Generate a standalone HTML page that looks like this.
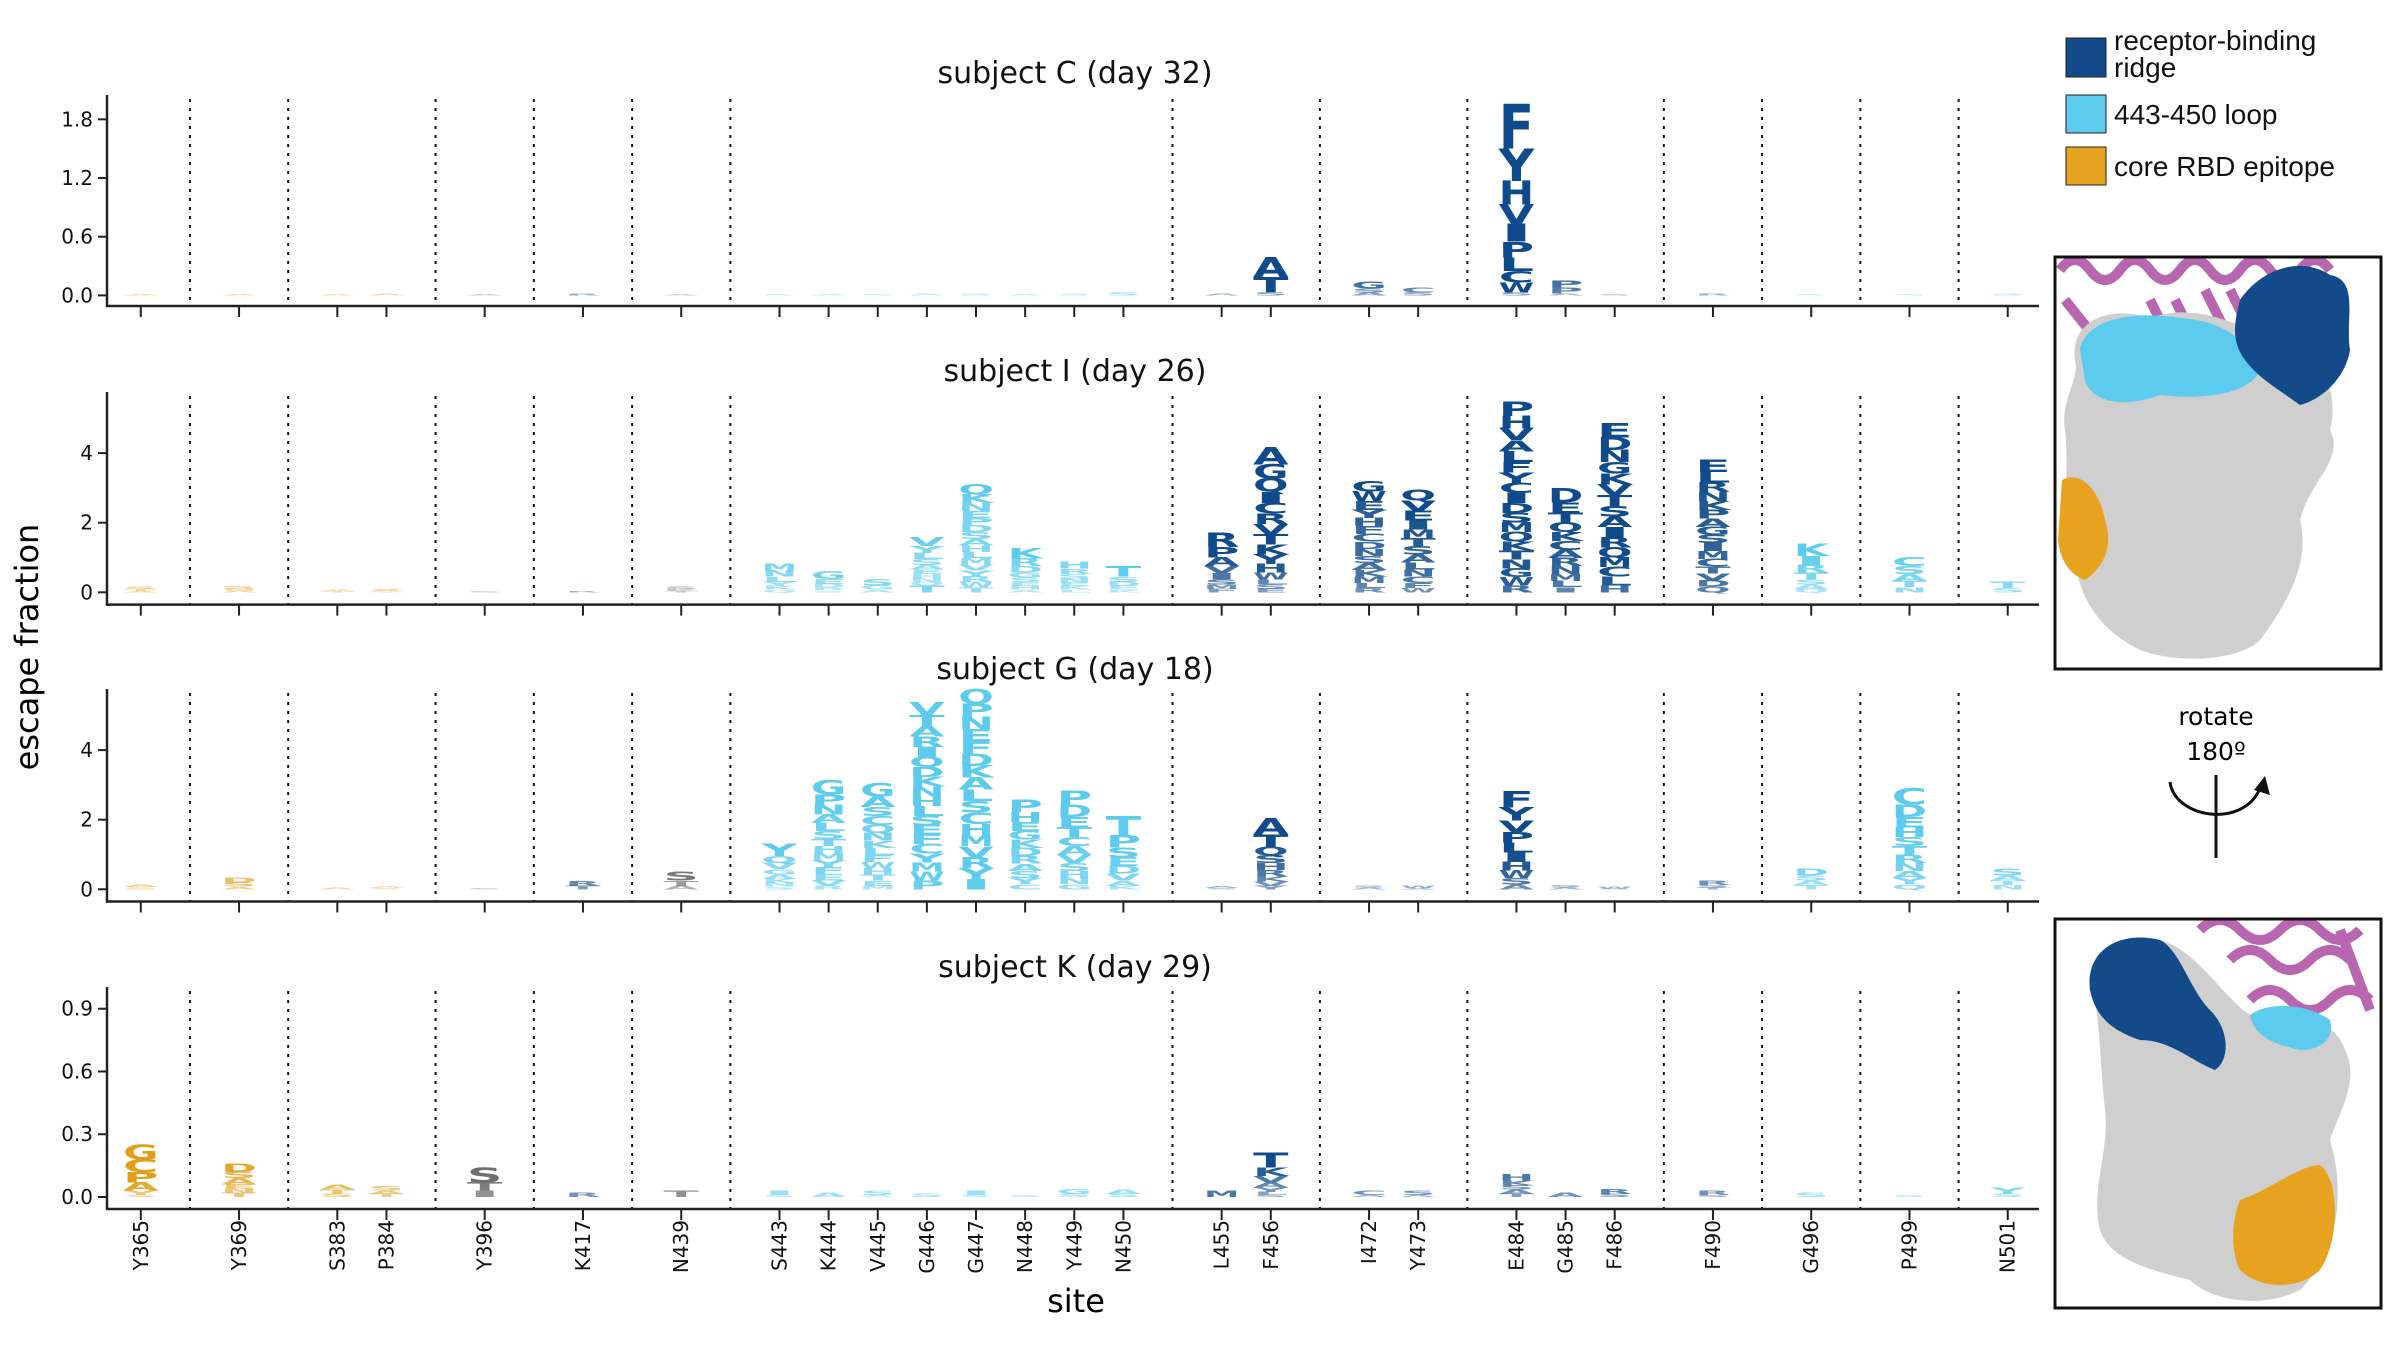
<!DOCTYPE html>
<html><head><meta charset="utf-8"><title>escape logos</title>
<style>
html,body{margin:0;padding:0;background:#fff;}
svg{display:block;}
text{font-family:"DejaVu Sans","Liberation Sans",sans-serif;}
.leg{font-family:"Liberation Sans",sans-serif;font-size:28px;fill:#111;}
</style></head>
<body>
<svg id="fig" width="2400" height="1350" viewBox="0 0 2400 1350" xmlns="http://www.w3.org/2000/svg">
  <defs>
    <clipPath id="clip1"><rect x="2055" y="257" width="326" height="412"/></clipPath>
    <clipPath id="clip2"><rect x="2055" y="919" width="326" height="389"/></clipPath>
  </defs>
  <g id="plots"></g>

  <text transform="translate(38,647) rotate(-90)" text-anchor="middle" font-size="32">escape fraction</text>
  <text x="1076" y="1312" text-anchor="middle" font-size="32">site</text>

  <g>
    <g>
      <rect x="2066" y="38" width="40" height="39" fill="#124a8a" stroke="#222" stroke-width="1"/>
      <text class="leg" x="2114" y="50">receptor-binding</text>
      <text class="leg" x="2114" y="77">ridge</text>
    </g>
    <g>
      <rect x="2066" y="95" width="40" height="38" fill="#5ccbee" stroke="#222" stroke-width="1"/>
      <text class="leg" x="2114" y="124">443-450 loop</text>
    </g>
    <g>
      <rect x="2066" y="147" width="40" height="38" fill="#e7a21f" stroke="#222" stroke-width="1"/>
      <text class="leg" x="2114" y="176">core RBD epitope</text>
    </g>
  </g>

  <g>
    <g clip-path="url(#clip1)">
      <g fill="none" stroke="#b866b0" stroke-width="10">
        <path d="M2060,270 q15,-20 30,0 t30,0 t30,0 t30,0 t30,0 t30,0 t30,0 t30,0 t30,0"/>
        <path d="M2150,300 l40,80 M2175,300 l40,80 M2205,290 l40,80 M2230,290 l30,60"/>
        <path d="M2065,300 l40,50"/>
      </g>
      <path d="M2075,360 C2070,320 2110,305 2150,318 C2200,300 2250,330 2280,345 C2320,350 2340,390 2330,430 C2345,460 2310,480 2300,520 C2310,560 2290,600 2260,640 C2240,660 2180,665 2140,650 C2100,630 2080,600 2075,560 C2060,520 2070,470 2065,430 C2060,400 2080,380 2075,360 Z" fill="#cfcfcf"/>
      <path d="M2080,350 C2085,320 2130,310 2180,318 C2220,320 2250,340 2260,370 C2250,395 2200,400 2160,395 C2120,410 2090,400 2085,380 Z" fill="#5ccbee"/>
      <path d="M2240,300 C2260,270 2300,255 2330,275 C2360,280 2345,320 2350,350 C2345,380 2320,400 2300,405 C2280,390 2260,380 2245,360 C2230,340 2235,320 2240,300 Z" fill="#124a8a"/>
      <path d="M2062,480 C2080,470 2100,490 2105,520 C2115,550 2100,570 2085,580 C2070,575 2060,560 2058,540 Z" fill="#e7a21f"/>
    </g>
    <rect x="2055" y="257" width="326" height="412" fill="none" stroke="#111" stroke-width="3"/>
  </g>

  <g>
    <text x="2216" y="725" text-anchor="middle" font-size="25">rotate</text>
    <text x="2216" y="760" text-anchor="middle" font-size="25">180º</text>
    <path d="M2170,782 C2175,820 2250,830 2262,782" fill="none" stroke="#111" stroke-width="3"/>
    <path d="M2254,790 L2265,776 L2270,795" fill="#111"/>
    <line x1="2216" y1="775" x2="2216" y2="858" stroke="#111" stroke-width="3"/>
  </g>

  <g>
    <g clip-path="url(#clip2)">
      <g fill="none" stroke="#b866b0" stroke-width="10">
        <path d="M2200,930 q20,-20 40,0 t40,0 t40,0 t40,0"/>
        <path d="M2230,960 q20,-20 40,0 t40,0 t40,0"/>
        <path d="M2250,1000 q20,-20 40,0 t40,0 t40,0"/>
        <path d="M2340,930 l30,80"/>
      </g>
      <path d="M2095,1000 C2090,960 2120,930 2160,940 C2200,950 2230,1010 2260,1020 C2300,1010 2335,1020 2345,1050 C2360,1080 2340,1110 2330,1140 C2345,1190 2340,1250 2300,1290 C2260,1310 2210,1300 2190,1280 C2150,1270 2110,1260 2100,1230 C2090,1190 2110,1150 2105,1110 C2100,1060 2100,1030 2095,1000 Z" fill="#cfcfcf"/>
      <path d="M2090,990 C2085,950 2120,930 2160,940 C2180,950 2190,990 2210,1010 C2230,1030 2230,1060 2215,1070 C2190,1060 2170,1040 2140,1040 C2110,1030 2095,1015 2090,990 Z" fill="#124a8a"/>
      <path d="M2250,1015 C2270,1000 2310,1005 2330,1020 C2335,1040 2320,1050 2300,1050 C2280,1045 2255,1040 2250,1015 Z" fill="#5ccbee"/>
      <path d="M2240,1200 C2270,1190 2300,1165 2320,1165 C2340,1180 2340,1240 2320,1270 C2300,1290 2260,1290 2240,1270 C2230,1250 2232,1220 2240,1200 Z" fill="#e7a21f"/>
    </g>
    <rect x="2055" y="919" width="326" height="389" fill="none" stroke="#111" stroke-width="3"/>
  </g>
</svg>

<script>
// ---- data ----
const sites = ["Y365","Y369","S383","P384","Y396","K417","N439","S443","K444","V445","G446","G447","N448","Y449","N450","L455","F456","I472","Y473","E484","G485","F486","F490","G496","P499","N501"];
const siteSlots = [0,2,4,5,7,9,11,13,14,15,16,17,18,19,20,22,23,25,26,28,29,30,32,34,36,38];
const siteRegion = ["core","core","core","core","none","ridge","none","loop","loop","loop","loop","loop","loop","loop","loop","ridge","ridge","ridge","ridge","ridge","ridge","ridge","ridge","loop","loop","loop"];
const dividerSlots = [1,3,6,8,10,12,21,24,27,31,33,35,37];

const subjectTitles = ["subject C (day 32)","subject I (day 26)","subject G (day 18)","subject K (day 29)"];

const subjC_letters = ["A","A","A","A","A","R","A","S","A","S","A","S","A","S","S","A","ATS","GSA","CS","FYHVIPLCWS","PPA","S","R","S","S","S"];
const subjC_values = [[0.01],[0.01],[0.01],[0.02],[0.01],[0.02],[0.01],[0.01],[0.01],[0.01],[0.02],[0.02],[0.01],[0.02],[0.03],[0.02],[0.2,0.16,0.03],[0.07,0.04,0.03],[0.05,0.03],[0.45,0.33,0.24,0.2,0.18,0.16,0.14,0.12,0.1,0.03],[0.07,0.06,0.02],[0.01],[0.02],[0.01],[0.01],[0.02]];

const subjI_letters = ["STA","SNA","AT","SAT","S","R","SKT","MNLYKQ","GEDRS","SGA","VYLSAEHNQT","QKNEPDSAHLMVYRWT","KRDGSEHA","HRSNEKL","TSDEK","RPAVISMF","AGQICRVTKYHWLSE","GWEYHFCDNSAKMLR","QVEIMTSALNCFW","PHVALFYCIDSMQKTNGWR","DETQKCARNMLI","EDNGKVTSAIRQMCLH","ELRNKPAGSIMCTVDQ","KIRTSAQ","CSATN","TS"];
const subjI_values = [[0.08,0.06,0.04],[0.08,0.06,0.05],[0.05,0.03],[0.05,0.03,0.02],[0.04],[0.04],[0.08,0.06,0.04],
 [0.2,0.18,0.15,0.12,0.1,0.08],[0.22,0.14,0.1,0.08,0.06],[0.18,0.12,0.08],
 [0.25,0.2,0.18,0.16,0.14,0.13,0.12,0.1,0.1,0.2],
 [0.3,0.25,0.22,0.21,0.2,0.2,0.2,0.19,0.18,0.18,0.18,0.17,0.17,0.16,0.16,0.14],
 [0.3,0.22,0.18,0.15,0.13,0.11,0.1,0.08],[0.2,0.15,0.13,0.12,0.1,0.1,0.08],[0.3,0.15,0.12,0.1,0.08],
 [0.4,0.3,0.25,0.2,0.18,0.15,0.12,0.1],
 [0.5,0.4,0.38,0.32,0.31,0.3,0.3,0.29,0.28,0.27,0.25,0.2,0.15,0.12,0.1],
 [0.3,0.28,0.25,0.24,0.23,0.22,0.22,0.21,0.21,0.2,0.2,0.19,0.18,0.15,0.12],
 [0.32,0.3,0.28,0.26,0.25,0.24,0.23,0.22,0.21,0.2,0.18,0.15,0.12],
 [0.4,0.36,0.34,0.32,0.31,0.3,0.3,0.29,0.29,0.28,0.28,0.27,0.27,0.26,0.26,0.25,0.25,0.24,0.2],
 [0.4,0.3,0.28,0.27,0.26,0.25,0.24,0.23,0.22,0.2,0.18,0.15],
 [0.4,0.36,0.34,0.33,0.32,0.31,0.31,0.3,0.3,0.3,0.29,0.29,0.28,0.27,0.25,0.2],
 [0.35,0.3,0.27,0.26,0.25,0.25,0.24,0.24,0.23,0.23,0.22,0.22,0.2,0.2,0.18,0.16],
 [0.35,0.25,0.22,0.2,0.15,0.12,0.1],[0.25,0.22,0.2,0.18,0.15],[0.18,0.12]];

const subjG_letters = ["AS","DSA","A","AS","S","RT","STA","YQVGAKNS","GPNALSTHMYFEVR","GASCQNKLFWHTEM","VTARIQDKNHLSEFCYMWP","QPNEFDKALSCHMVRYI","PHEGKDRASYC","PDETCAVSHNG","TPSEDVAK","AS","ATQSHRKVY","SA","WA","FYVPLIHWSA","SA","WS","RST","DSAT","CDEHSTRNAYQ","SATN"];
const subjG_values = [[0.08,0.06],[0.15,0.12,0.08],[0.06],[0.05,0.04],[0.04],[0.14,0.1],[0.25,0.15,0.1],
 [0.35,0.2,0.18,0.15,0.13,0.12,0.1,0.08],
 [0.4,0.3,0.27,0.25,0.23,0.22,0.21,0.2,0.2,0.2,0.2,0.18,0.16,0.1],
 [0.38,0.3,0.26,0.25,0.23,0.22,0.21,0.2,0.2,0.19,0.18,0.17,0.15,0.1],
 [0.36,0.32,0.3,0.3,0.29,0.29,0.28,0.28,0.28,0.28,0.28,0.27,0.27,0.27,0.27,0.26,0.26,0.26,0.25],
 [0.42,0.38,0.36,0.35,0.35,0.34,0.34,0.34,0.33,0.33,0.33,0.32,0.32,0.32,0.31,0.31,0.3],
 [0.35,0.28,0.26,0.25,0.24,0.23,0.22,0.21,0.2,0.18,0.15],
 [0.4,0.34,0.3,0.28,0.26,0.25,0.24,0.22,0.2,0.18,0.15],
 [0.55,0.35,0.28,0.25,0.22,0.2,0.15,0.1],
 [0.06,0.04],[0.45,0.35,0.25,0.22,0.2,0.18,0.15,0.12,0.1],[0.06,0.05],[0.07,0.04],
 [0.45,0.38,0.33,0.3,0.28,0.27,0.25,0.22,0.18,0.14],
 [0.07,0.05],[0.06,0.03],[0.12,0.08,0.05],[0.2,0.15,0.13,0.12],
 [0.45,0.35,0.3,0.28,0.26,0.25,0.24,0.22,0.2,0.18,0.15],[0.2,0.15,0.13,0.12]];

const subjK_letters = ["GCPAYS","DSAENT","ATS","SAT","STI","R","T","IS","A","SA","S","IS","S","GS","AS","M","TKVAYLS","CA","SA","HKSAT","A","RS","RS","S","S","YS"];
const subjK_values = [[0.07,0.06,0.05,0.04,0.02,0.01],[0.04,0.03,0.03,0.02,0.02,0.02],[0.025,0.02,0.015],[0.02,0.015,0.015],[0.07,0.04,0.03],
 [0.02],[0.03],[0.02,0.01],[0.02],[0.02,0.01],[0.015],[0.02,0.01],[0.01],[0.025,0.015],[0.02,0.015],[0.03],
 [0.07,0.04,0.03,0.025,0.02,0.015,0.01],[0.02,0.01],[0.02,0.01],[0.03,0.025,0.02,0.02,0.015],[0.02],[0.025,0.015],[0.02,0.01],[0.02],[0.01],[0.03,0.015]];

const tickC = ["0.0","0.6","1.2","1.8"];
const tickI = ["0","2","4"];
const tickG = ["0","2","4"];
const tickK = ["0.0","0.3","0.6","0.9"];

// ---- layout ----
const NS = "http://www.w3.org/2000/svg";
const X0 = 140.8, UNIT = 49.13, AX_L = 107, AX_R = 2039;
const colors = {core:"#e19e17", loop:"#5ccbee", ridge:"#0f4b8c", none:"#6e6e6e"};
const panels = [
  {letters:subjC_letters, values:subjC_values, ticks:tickC, zero:295.4, ppu:97.8, line:306, top:95, titleY:83},
  {letters:subjI_letters, values:subjI_values, ticks:tickI, zero:592.3, ppu:34.8, line:604.6, top:392, titleY:381},
  {letters:subjG_letters, values:subjG_values, ticks:tickG, zero:889.3, ppu:34.8, line:901.5, top:689, titleY:679},
  {letters:subjK_letters, values:subjK_values, ticks:tickK, zero:1197, ppu:209.2, line:1209, top:987, titleY:977}
];
const xOf = slot => X0 + slot*UNIT;
function el(tag, attrs, parent){ const e=document.createElementNS(NS,tag); for(const k in attrs) e.setAttribute(k,attrs[k]); parent.appendChild(e); return e; }

const root = document.getElementById("plots");
panels.forEach((p, pi) => {
  const g = el("g", {}, root);
  
  
  const yOf = v => p.zero - v*p.ppu;

  const t = el("text", {x:1075, y:p.titleY, "text-anchor":"middle", "font-size":"30", fill:"#111"}, g);
  t.textContent = subjectTitles[pi];
  
  

  // dividers
  dividerSlots.forEach(s => {
    const l = el("line", {x1:xOf(s), x2:xOf(s), y1:p.top+4, y2:p.line, stroke:"#111", "stroke-width":"2", "stroke-dasharray":"3,6"}, g);
    
    
  });

  // logos
  p.values.forEach((vals, si) => {
    const cx = xOf(siteSlots[sites.indexOf(sites[si])]);
    const w = UNIT*0.72;
    let cum = 0;
    const stack = [];
    vals.forEach((v, li) => stack.push([p.letters[si][li] || "S", v]));
    // draw from bottom: last letter is lowest
    for (let li = stack.length-1; li >= 0; li--) {
      const [ch, v] = stack[li];
      const yb = yOf(cum);
      const h = v*p.ppu;
      cum += v;
      if (h < 0.4) continue;
      const sy = h/72;
      const op = Math.min(1, 0.3 + h/14);
      const tx = el("text", {transform:`translate(${cx - w/2},${yb}) scale(1,${sy})`, "font-size":"100", "font-weight":"bold",
        "font-family":"Liberation Sans, sans-serif", textLength:w, lengthAdjust:"spacingAndGlyphs", fill:colors[siteRegion[si]], "fill-opacity":op}, g);
      tx.textContent = ch;
      
      
    }
  });

  // axes
  const ax = el("path", {d:`M${AX_L},${p.top} V${p.line} H${AX_R}`, fill:"none", stroke:"#222", "stroke-width":"2.5"}, g);
  
  

  sites.forEach((s, si) => {
    const x = xOf(siteSlots[si]);
    const tk = el("line", {x1:x, x2:x, y1:p.line, y2:p.line+11, stroke:"#222", "stroke-width":"2"}, g);
    
    
    if (pi === 3) {
      const lb = el("text", {transform:`translate(${x+7},${1220}) rotate(-90)`, "text-anchor":"end", "font-size":"20", fill:"#111"}, g);
      lb.textContent = s;
      
      
    }
  });

  p.ticks.forEach(tl => {
    const y = yOf(parseFloat(tl));
    const tk = el("line", {x1:AX_L-9, x2:AX_L, y1:y, y2:y, stroke:"#222", "stroke-width":"2"}, g);
    
    
    const lb = el("text", {x:AX_L-14, y:y+7, "text-anchor":"end", "font-size":"20", fill:"#111"}, g);
    lb.textContent = tl;
    
    
  });
});
</script>
</body></html>
